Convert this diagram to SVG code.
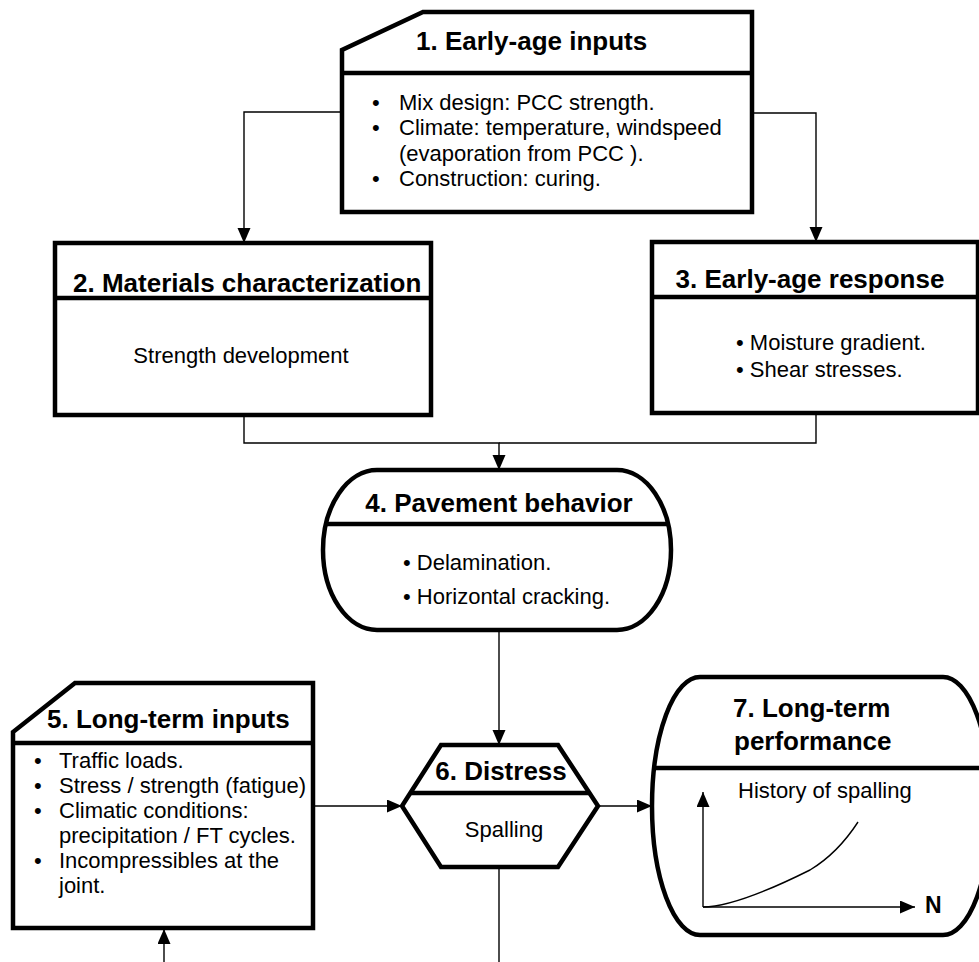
<svg xmlns="http://www.w3.org/2000/svg" width="979" height="962" viewBox="0 0 979 962">
<defs>
<marker id="arr" markerUnits="userSpaceOnUse" markerWidth="15" markerHeight="14" refX="15" refY="6.5" orient="auto">
<path d="M0,0 L15,6.5 L0,13 z" fill="#000"/>
</marker>
<style>
.box{fill:#fff;stroke:#000;stroke-width:4.5;stroke-linejoin:miter}
.div{stroke:#000;stroke-width:4.5;fill:none}
.con{stroke:#000;stroke-width:1.4;fill:none}
.t{font-family:"Liberation Sans",Arial,sans-serif;font-size:26px;font-weight:bold;fill:#000}
.b{font-family:"Liberation Sans",Arial,sans-serif;font-size:22px;fill:#000}
</style>
</defs>
<rect width="979" height="962" fill="#fff"/>
<g id="connectors">
<polyline class="con" points="342,112 244,112 244,243" marker-end="url(#arr)"/>
<polyline class="con" points="752,113 816,113 816,242" marker-end="url(#arr)"/>
<polyline class="con" points="244,415 244,443 499,443 499,470" marker-end="url(#arr)"/>
<polyline class="con" points="816,413 816,443 499,443"/>
<line class="con" x1="499" y1="630" x2="499" y2="745" marker-end="url(#arr)"/>
<line class="con" x1="313" y1="806" x2="402" y2="806" marker-end="url(#arr)"/>
<line class="con" x1="598" y1="806" x2="652" y2="806" marker-end="url(#arr)"/>
<line class="con" x1="499" y1="867" x2="499" y2="962"/>
<line class="con" x1="164" y1="962" x2="164" y2="929" marker-end="url(#arr)"/>
</g>
<g id="node1">
<path class="box" d="M423,12 H752 V212 H342 V50 Z"/>
<line class="div" x1="342" y1="73" x2="752" y2="73"/>
<text class="t" x="416" y="50">1. Early-age inputs</text>
<text class="b" x="372" y="110">•</text><text class="b" x="399" y="110">Mix design: PCC strength.</text>
<text class="b" x="372" y="135">•</text><text class="b" x="399" y="135">Climate: temperature, windspeed</text>
<text class="b" x="399" y="161">(evaporation from PCC ).</text>
<text class="b" x="372" y="186">•</text><text class="b" x="399" y="186">Construction: curing.</text>
</g>
<g id="node2">
<rect class="box" x="55" y="243" width="376" height="172"/>
<line class="div" x1="55" y1="298" x2="431" y2="298"/>
<text class="t" x="73" y="292">2. Materials characterization</text>
<text class="b" x="241" y="363" text-anchor="middle">Strength development</text>
</g>
<g id="node3">
<rect class="box" x="652" y="242" width="326" height="171"/>
<line class="div" x1="652" y1="297" x2="978" y2="297"/>
<text class="t" x="810" y="288" text-anchor="middle">3. Early-age response</text>
<text class="b" x="736" y="350">• Moisture gradient.</text>
<text class="b" x="736" y="377">• Shear stresses.</text>
</g>
<g id="node4">
<path class="box" d="M377,470 H617 A54,80 0 0 1 617,630 H377 A54,80 0 0 1 377,470 Z"/>
<line class="div" x1="326" y1="524" x2="668" y2="524"/>
<text class="t" x="499" y="512" text-anchor="middle">4. Pavement behavior</text>
<text class="b" x="403" y="570">• Delamination.</text>
<text class="b" x="403" y="604">• Horizontal cracking.</text>
</g>
<g id="node5">
<path class="box" d="M75,683 H313 V928 H13 V732 Z"/>
<line class="div" x1="13" y1="743" x2="313" y2="743"/>
<text class="t" x="47" y="728">5. Long-term inputs</text>
<text class="b" x="34" y="768">•</text><text class="b" x="59" y="768">Traffic loads.</text>
<text class="b" x="34" y="793">•</text><text class="b" x="59" y="793">Stress / strength (fatigue)</text>
<text class="b" x="34" y="818">•</text><text class="b" x="59" y="818">Climatic conditions:</text>
<text class="b" x="59" y="843">precipitation / FT cycles.</text>
<text class="b" x="34" y="868">•</text><text class="b" x="59" y="868">Incompressibles at the</text>
<text class="b" x="59" y="893">joint.</text>
</g>
<g id="node6">
<path class="box" d="M441,745 H558 L598,806 L558,867 H441 L402,806 Z"/>
<line class="div" x1="410" y1="793" x2="590" y2="793"/>
<text class="t" x="501" y="780" text-anchor="middle">6. Distress</text>
<text class="b" x="504" y="837" text-anchor="middle">Spalling</text>
</g>
<g id="node7">
<path class="box" d="M700,677 H943 A48,129 0 0 1 943,935 H700 A48,129 0 0 1 700,677 Z"/>
<line class="div" x1="654" y1="768" x2="990" y2="768"/>
<text class="t" x="733" y="717">7. Long-term</text>
<text class="t" x="734" y="750">performance</text>
<text class="b" x="738" y="798">History of spalling</text>
<line class="con" x1="703" y1="907" x2="703" y2="792" marker-end="url(#arr)"/>
<line class="con" x1="703" y1="907" x2="915" y2="907" marker-end="url(#arr)"/>
<path class="con" d="M703,907 C730,907 770,890 810,870 C830,858 845,842 858,822"/>
<text class="t" x="925" y="913" style="font-size:23px">N</text>
</g>
</svg>
